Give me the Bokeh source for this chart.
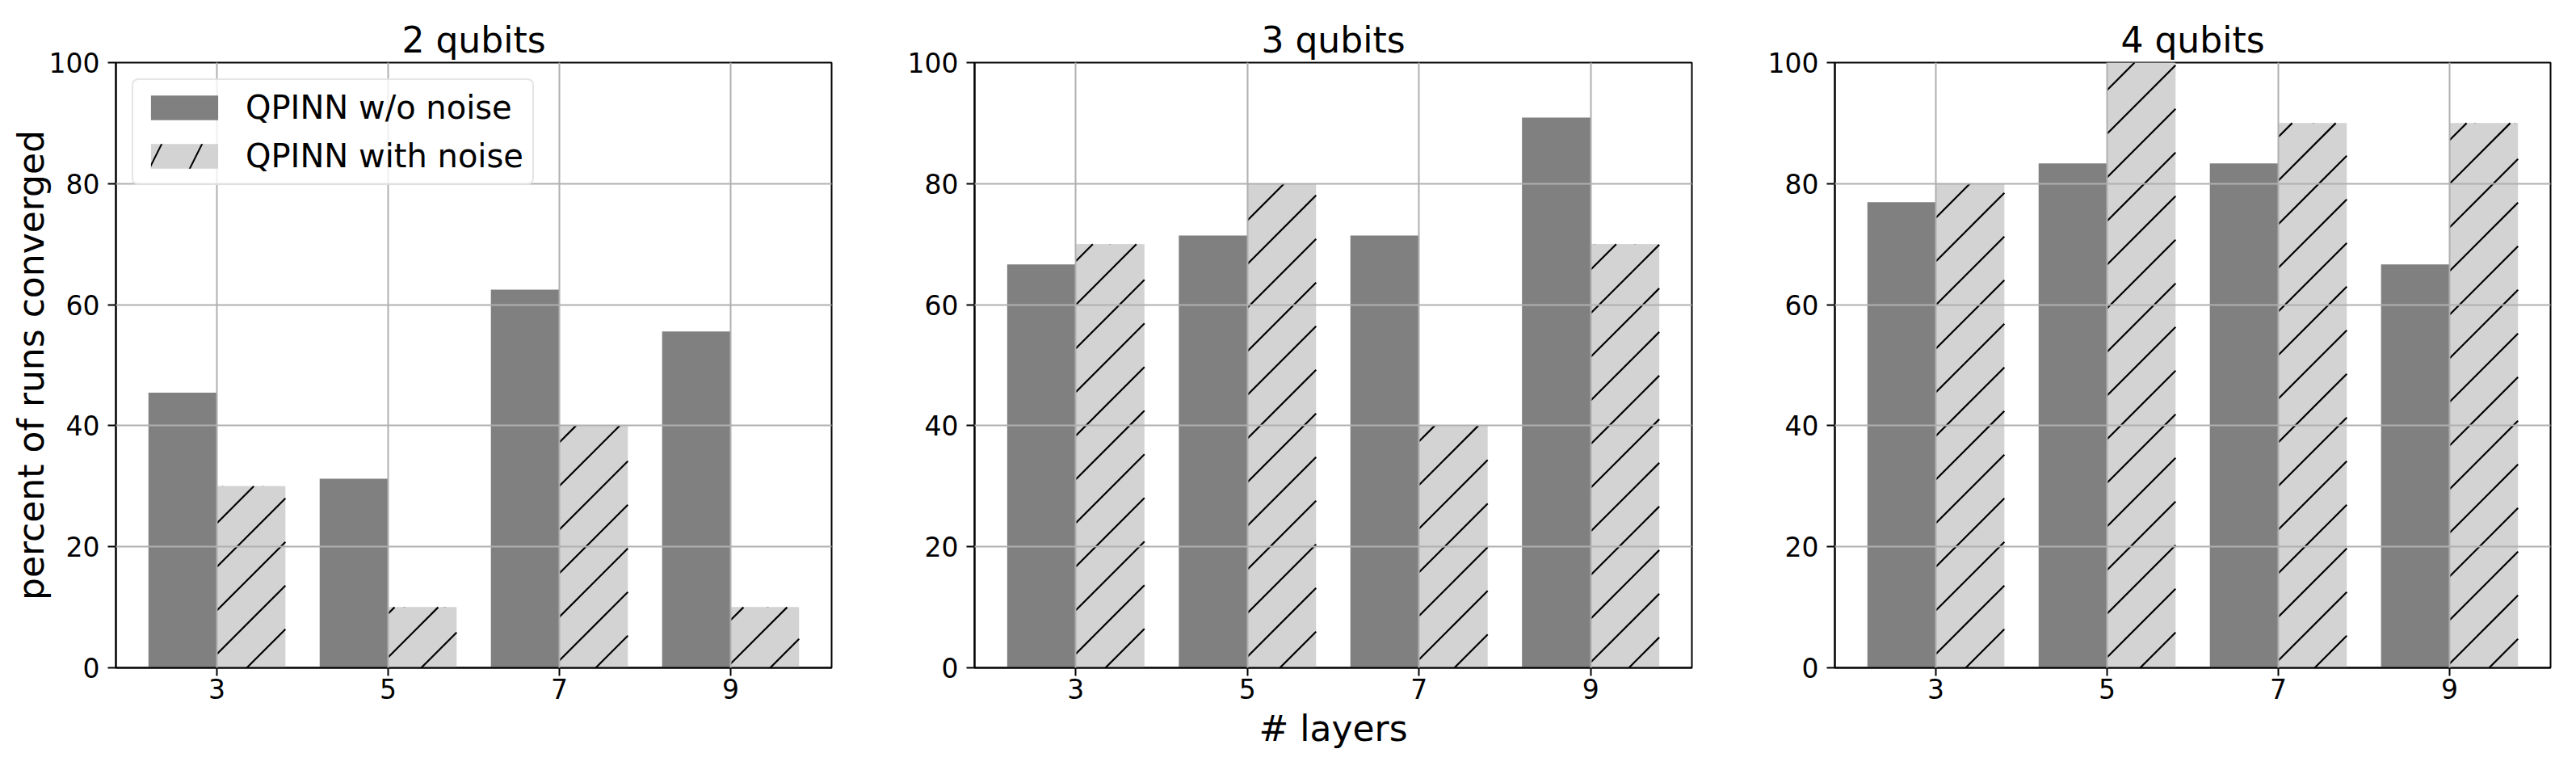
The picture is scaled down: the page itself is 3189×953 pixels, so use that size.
import math
from bokeh.plotting import figure
from bokeh.layouts import row
from bokeh.models import Range1d, FixedTicker, Legend, LegendItem
from bokeh.embed import file_html
from bokeh.resources import INLINE

# ---- data ----
layers = [3, 5, 7, 9]
titles = ["2 qubits", "3 qubits", "4 qubits"]
no_noise_2q = [45.45, 31.25, 62.5, 55.56]
with_noise_2q = [30, 10, 40, 10]
no_noise_3q = [66.67, 71.43, 71.43, 90.91]
with_noise_3q = [70, 80, 40, 70]
no_noise_4q = [76.92, 83.33, 83.33, 66.67]
with_noise_4q = [80, 100, 90, 90]
series_labels = ["QPINN w/o noise", "QPINN with noise"]
y_ticks = [0, 20, 40, 60, 80, 100]
x_label = "# layers"
y_label = "percent of runs converged"

FONT = "DejaVu Sans"
BAR_W = 0.8
XR = (1.82, 10.18)
FRAME_H = 749
HATCH_PX = 54


def hatch_segments(xs, tops, frame_w):
    """45-degree '/' hatch lines clipped to each bar (through the data scales)."""
    kx = frame_w / (XR[1] - XR[0])
    ky = FRAME_H / 100.0
    X0, X1, Y0, Y1 = [], [], [], []
    for x, t in zip(xs, tops):
        u0 = (x - BAR_W / 2 - XR[0]) * kx
        u1 = (x + BAR_W / 2 - XR[0]) * kx
        vt = t * ky
        kmin = math.floor(-u1 / HATCH_PX)
        kmax = math.ceil((vt - u0) / HATCH_PX)
        for k in range(kmin, kmax + 1):
            c = k * HATCH_PX
            ua = max(u0, -c)
            ub = min(u1, vt - c)
            if ub - ua > 0.5:
                X0.append(ua / kx + XR[0]); Y0.append((ua + c) / ky)
                X1.append(ub / kx + XR[0]); Y1.append((ub + c) / ky)
    return X0, Y0, X1, Y1


def make_fig(title, nn, wn, frame_w, bl, br, ylabel=None, xlabel=None, legend=False):
    p = figure(frame_width=frame_w, frame_height=FRAME_H, output_backend="svg",
               toolbar_location=None, x_range=Range1d(*XR),
               y_range=Range1d(0, 100), min_border_left=bl, min_border_right=br,
               min_border_top=77, min_border_bottom=111, title=title)
    p.background_fill_color = "white"
    p.border_fill_color = "white"
    p.outline_line_color = "black"
    p.outline_line_width = 2
    p.outline_line_alpha = 1

    p.title.text_font = FONT
    p.title.text_font_size = "44px"
    p.title.text_font_style = "normal"
    p.title.text_color = "black"
    p.title.align = "center"
    p.title.standoff = 5

    xl = [l - BAR_W / 2 for l in layers]
    xr = [l + BAR_W / 2 for l in layers]
    r1 = p.vbar(x=xl, top=nn, bottom=0, width=BAR_W, fill_color="#808080",
                line_color=None)
    # legend swatch proxy (hidden beneath the real hatched bars)
    r_leg = p.vbar(x=xr, top=wn, bottom=0, width=BAR_W * 0.96, fill_color="#d3d3d3",
                   line_color=None, hatch_pattern="/", hatch_color="black",
                   hatch_weight=2, hatch_scale=100)
    p.vbar(x=xr, top=wn, bottom=0, width=BAR_W, fill_color="#d3d3d3",
           line_color=None)
    x0, y0, x1, y1 = hatch_segments(xr, wn, frame_w)
    p.segment(x0=x0, y0=y0, x1=x1, y1=y1, line_color="black", line_width=2.2)

    p.xaxis.ticker = FixedTicker(ticks=layers)
    p.yaxis.ticker = FixedTicker(ticks=y_ticks)
    for g in (p.xgrid, p.ygrid):
        g.grid_line_color = "#b0b0b0"
        g.grid_line_width = 2
        g.level = "guide"
    p.xgrid.ticker = FixedTicker(ticks=layers)
    p.ygrid.ticker = FixedTicker(ticks=y_ticks)

    for ax in (p.xaxis[0], p.yaxis[0]):
        ax.major_label_text_font = FONT
        ax.major_label_text_font_size = "33px"
        ax.major_label_text_color = "black"
        ax.axis_line_color = "black"
        ax.axis_line_width = 2
        ax.major_tick_line_color = "black"
        ax.major_tick_line_width = 2
        ax.major_tick_out = 10
        ax.major_tick_in = 0
        ax.minor_tick_line_color = None
        ax.axis_label_text_font = FONT
        ax.axis_label_text_font_size = "44px"
        ax.axis_label_text_font_style = "normal"
        ax.axis_label_text_color = "black"
    p.xaxis.major_label_standoff = 3
    p.yaxis.major_label_standoff = 10
    if ylabel:
        p.yaxis.axis_label = ylabel
        p.yaxis.axis_label_standoff = -6
    if xlabel:
        p.xaxis.axis_label = xlabel
        p.xaxis.axis_label_standoff = 8

    if legend:
        lg = Legend(items=[LegendItem(label=series_labels[0], renderers=[r1]),
                           LegendItem(label=series_labels[1], renderers=[r_leg])],
                    location="top_left")
        lg.margin = 20
        lg.padding = 11
        lg.spacing = 14
        lg.glyph_width = 104
        lg.glyph_height = 38
        lg.label_standoff = 24
        lg.label_text_font = FONT
        lg.label_text_font_size = "40px"
        lg.label_text_color = "black"
        lg.border_line_color = "#cccccc"
        lg.border_line_width = 2
        lg.background_fill_color = "white"
        lg.background_fill_alpha = 0.8
        if "border_radius" in lg.properties():
            lg.border_radius = 8
        p.add_layout(lg)
    return p


p1 = make_fig(titles[0], no_noise_2q, with_noise_2q, 886, 143, 20, ylabel=y_label, legend=True)
p2 = make_fig(titles[1], no_noise_3q, with_noise_3q, 888, 157, 20, xlabel=x_label)
p3 = make_fig(titles[2], no_noise_4q, with_noise_4q, 886, 157, 10)

layout = row(p1, p2, p3)
open("out.html", "w").write(file_html(layout, INLINE))
